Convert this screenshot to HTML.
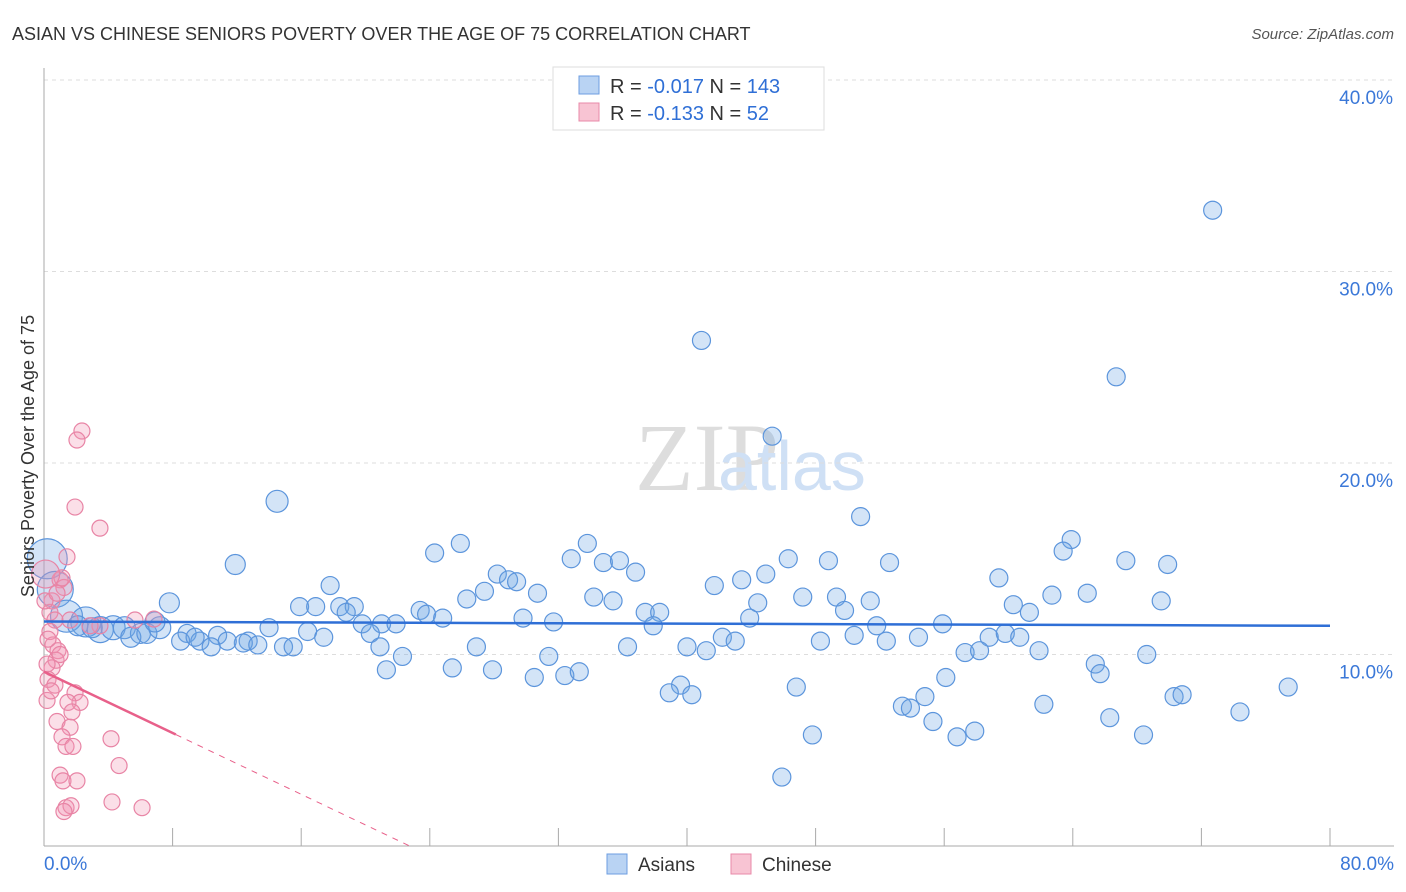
<!DOCTYPE html>
<html><head><meta charset="utf-8"><style>
body{margin:0;background:#fff;font-family:"Liberation Sans",sans-serif;}
svg{display:block}
</style></head><body>
<svg width="1406" height="892" id="chart">
<text x="12" y="40" font-size="18" fill="#333">ASIAN VS CHINESE SENIORS POVERTY OVER THE AGE OF 75 CORRELATION CHART</text>
<text x="1394" y="39" font-size="15" fill="#555" font-style="italic" text-anchor="end">Source: ZipAtlas.com</text>
<text x="635" y="490" font-size="96" fill="#ddd" font-family="Liberation Serif,serif">ZIP</text>
<text x="718" y="490" font-size="70" fill="#cfe0f5">atlas</text>
<g id="grid"></g><g id="axes"></g><g id="pts"></g><g id="trend"></g>
<text transform="translate(34,456) rotate(-90)" font-size="18" fill="#333" text-anchor="middle">Seniors Poverty Over the Age of 75</text>
<g>
<rect x="553" y="67" width="271" height="63" fill="#fff" stroke="#ddd"/>
<rect x="579" y="76" width="20" height="18" fill="#b9d3f3" stroke="#6d9ee0"/>
<rect x="579" y="103" width="20" height="18" fill="#f8c4d3" stroke="#e88aa8"/>
<text x="610" y="93" font-size="20" fill="#333">R = <tspan fill="#2f6fd6">-0.017</tspan>   N = <tspan fill="#2f6fd6">143</tspan></text>
<text x="610" y="120" font-size="20" fill="#333">R = <tspan fill="#2f6fd6"> -0.133</tspan>   N = <tspan fill="#2f6fd6">  52</tspan></text>
</g>
<g>
<rect x="607" y="854" width="20" height="20" fill="#b9d3f3" stroke="#6d9ee0"/>
<text x="638" y="871" font-size="19" fill="#333">Asians</text>
<rect x="731" y="854" width="20" height="20" fill="#f8c4d3" stroke="#e88aa8"/>
<text x="762" y="871" font-size="19" fill="#333">Chinese</text>
</g>
</svg>
<script>
const yTicks=[10,20,30,40];
const xTickLabels=["0.0%","80.0%"];
const asianX=[72.7,40.9,66.7,45.3,14.5,50.8,11.9,24.3,25.9,33.8,32.8,34.8,35.8,36.8,46.3,48.8,52.6,63.9,63.4,67.3,69.9,17.8,28.2,28.9,29.4,27.4,26.3,30.7,41.7,43.4,44.9,59.4,34.2,35.4,47.2,49.3,51.4,44.4,62.7,64.9,69.5,60.3,7.8,15.9,16.9,18.4,19.3,18.8,23.4,23.8,24.8,29.8,31.7,37.4,38.3,37.9,43.9,49.8,61.3,51.8,55.9,19.8,21.0,21.9,14.0,16.4,20.3,17.4,8.9,10.8,20.9,14.9,15.5,12.7,12.4,13.3,11.4,9.7,10.4,8.5,9.4,26.9,36.3,40.0,41.2,42.2,43.0,48.3,50.4,52.4,54.4,58.8,59.8,60.7,57.3,58.2,61.9,68.6,22.3,31.4,21.3,25.4,27.9,30.5,32.4,33.3,65.4,65.7,56.1,39.6,38.9,40.3,46.8,54.8,53.4,53.9,62.2,70.3,70.8,77.4,74.4,55.3,66.3,47.8,56.8,57.9,68.4,45.9,0.2,0.7,1.4,2.6,3.5,4.3,5.0,6.0,5.4,6.4,7.2,6.9,2.1,3.0];
const asianY=[33.2,26.4,24.5,21.4,18.0,17.2,14.7,15.3,15.8,15.8,15.0,14.8,14.9,14.3,15.0,14.9,14.8,16.0,15.4,14.9,14.7,13.6,14.2,13.9,13.8,13.3,12.9,13.2,13.6,13.9,14.2,14.0,13.0,12.8,13.0,13.0,12.8,12.7,13.1,13.2,12.8,12.6,12.7,12.5,12.5,12.5,12.5,12.2,12.3,12.1,11.9,11.9,11.7,12.2,12.2,11.5,11.9,12.3,12.2,11.5,11.6,11.6,11.6,11.6,11.4,11.2,11.1,10.9,11.1,11.0,10.4,10.4,10.4,10.7,10.6,10.5,10.7,10.7,10.4,10.7,10.9,10.4,10.4,10.4,10.2,10.9,10.7,10.7,11.0,10.7,10.9,10.9,11.1,10.9,10.1,10.2,10.2,10.0,9.9,9.9,9.2,9.3,9.2,8.8,8.9,9.1,9.5,9.0,8.8,8.4,8.0,7.9,8.3,7.8,7.3,7.2,7.4,7.8,7.9,8.3,7.0,6.5,6.7,5.8,5.7,6.0,5.8,3.6,15.0,13.4,12.0,11.7,11.3,11.4,11.4,11.1,10.9,11.1,11.4,11.7,11.5,11.4];
const asianR=[9,9,9,9,11,9,10,9,9,9,9,9,9,9,9,9,9,9,9,9,9,9,9,9,9,9,9,9,9,9,9,9,9,9,9,9,9,9,9,9,9,9,10,9,9,9,9,9,9,9,9,9,9,9,9,9,9,9,9,9,9,9,9,9,9,9,9,9,9,9,9,9,9,9,9,9,9,9,9,9,9,9,9,9,9,9,9,9,9,9,9,9,9,9,9,9,9,9,9,9,9,9,9,9,9,9,9,9,9,9,9,9,9,9,9,9,9,9,9,9,9,9,9,9,9,9,9,9,20,18,16,15,13,12,11,10,10,10,11,10,10,10];
const chineseX=[2.36,2.05,1.93,3.48,1.43,1.0,1.24,0.5,0.37,0.68,0.37,0.56,0.87,0.75,0.5,0.25,0.68,1.93,2.24,1.49,1.74,0.81,1.62,1.12,1.37,1.8,4.17,4.67,1.0,1.18,2.05,4.23,6.1,1.37,1.68,1.24,6.84,5.66,3.48,0.19,0.44,0.06,1.0,1.62,0.25,0.19,2.86,0.81,1.12,0.1];
const chineseY=[21.67,21.2,17.7,16.6,15.1,13.9,13.5,12.8,12.2,11.8,11.2,10.5,10.2,9.7,9.3,8.7,8.4,8.0,7.5,7.5,7.0,6.5,6.2,5.7,5.2,5.2,5.6,4.2,3.7,3.4,3.4,2.3,2.0,2.0,2.1,1.8,11.85,11.8,11.5,7.6,8.1,12.8,10.0,11.8,10.8,9.5,11.5,13.2,14.0,14.2];
const asianTrend=[11.72,11.5];
const chineseTrend=[9.1,-0.40];
const X0=44,X1=1330,Y0=846,Y40=80;
const sx=v=>X0+(X1-X0)*v/80;
const sy=v=>Y0-(Y0-Y40)*v/40;
const NS="http://www.w3.org/2000/svg";
function mk(t,a,p){const e=document.createElementNS(NS,t);for(const k in a)e.setAttribute(k,a[k]);p.appendChild(e);return e;}
const grid=document.getElementById('grid'),axes=document.getElementById('axes'),pts=document.getElementById('pts'),tr=document.getElementById('trend');
yTicks.forEach(t=>{const l=mk('line',{x1:X0,x2:1394,y1:sy(t),y2:sy(t),stroke:'#ddd','stroke-dasharray':'4,4'},grid);


const tx=mk('text',{x:1393,y:sy(t)+24,'font-size':19,fill:'#3b78d8','text-anchor':'end'},axes);tx.textContent=t.toFixed(1)+'%';

});
const ya=mk('line',{x1:X0,x2:X0,y1:68,y2:Y0,stroke:'#aaa'},axes);


const xa=mk('line',{x1:X0,x2:1394,y1:Y0,y2:Y0,stroke:'#aaa'},axes);


for(let i=1;i<=10;i++){const t=mk('line',{x1:sx(i*8),x2:sx(i*8),y1:Y0,y2:Y0-18,stroke:'#aaa'},axes);

}
[[0,'start',44],[80,'end',1394]].forEach((d,i)=>{const tx=mk('text',{x:d[2],y:870,'font-size':19,fill:'#3b78d8','text-anchor':d[1]},axes);tx.textContent=xTickLabels[i];

});
asianX.forEach((x,i)=>{const c=mk('circle',{cx:sx(x),cy:sy(asianY[i]),r:asianR[i],fill:'rgba(110,165,230,0.3)',stroke:'#5c95dc','stroke-width':1.2},pts);

});
chineseX.forEach((x,i)=>{const c=mk('circle',{cx:sx(x),cy:sy(chineseY[i]),r:(i==chineseX.length-1?14:8),fill:'rgba(242,150,180,0.3)',stroke:'#e884a5','stroke-width':1.2},pts);

});
const bl=mk('line',{x1:sx(0),y1:sy(asianTrend[0]),x2:sx(80),y2:sy(asianTrend[1]),stroke:'#2f6fd6','stroke-width':2.5},tr);


const cy=x=>chineseTrend[0]+chineseTrend[1]*x;const xs=8.2,xz=-chineseTrend[0]/chineseTrend[1];
const pl=mk('line',{x1:sx(0),y1:sy(cy(0)),x2:sx(xs),y2:sy(cy(xs)),stroke:'#e8608a','stroke-width':2.5},tr);


const pd=mk('line',{x1:sx(xs),y1:sy(cy(xs)),x2:sx(xz),y2:sy(0),stroke:'#e8608a','stroke-width':1,'stroke-dasharray':'6,6'},tr);


</script>
</body></html>
